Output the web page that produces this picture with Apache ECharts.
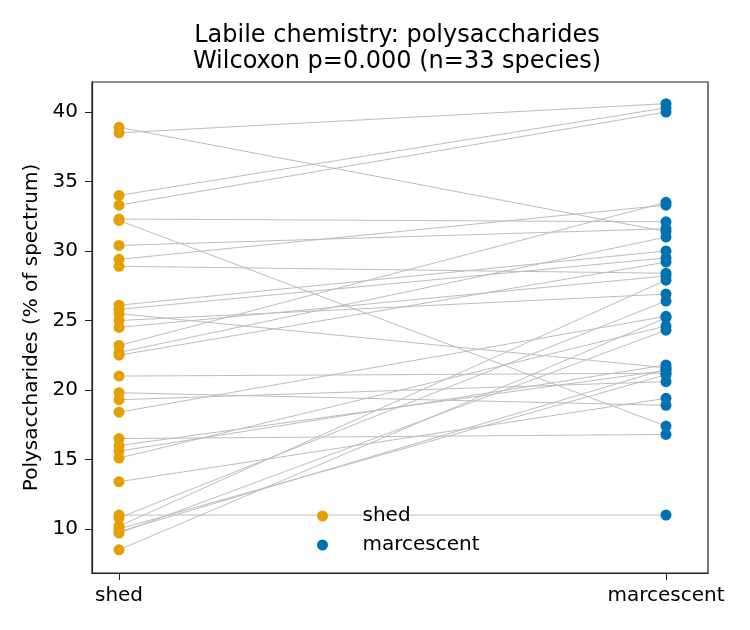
<!DOCTYPE html>
<html>
<head>
<meta charset="utf-8" />
<script type="text/javascript" src="https://cdn.jsdelivr.net/npm/echarts@6/dist/echarts.min.js"></script>
<title>polysaccharides</title>
</head>
<body style="margin:0">
<div id="main" style="width:750px;height:630px"></div>
<script type="text/javascript">
var groups = ['shed', 'marcescent'];
// paired values per species (% of spectrum)
var shedVals = [38.9, 38.5, 34.0, 33.3, 32.3, 32.2, 30.4, 29.4, 28.9, 26.1, 25.8, 25.5, 25.0, 24.5, 23.2, 22.7, 22.5,
                21.0, 19.8, 19.3, 18.4, 16.5, 16.0, 15.6, 15.1, 13.4, 11.0, 10.8, 10.2, 10.0, 9.8, 9.7, 8.5];
var marcVals = [31.4, 40.6, 40.3, 40.0, 32.1, 17.4, 31.6, 33.3, 28.4, 30.0, 29.5, 21.6, 26.9, 28.2, 33.5, 31.0, 29.2,
                21.2, 18.9, 20.6, 25.3, 16.8, 21.4, 21.8, 24.6, 19.4, 11.0, 26.4, 27.9, 21.1, 21.5, 24.3, 25.2];
var yTicks = [10, 15, 20, 25, 30, 35, 40];

var myChart = echarts.init(document.getElementById('main'));
var series = [];
for (var i = 0; i < shedVals.length; i++) {
  series.push({
    type: 'line', silent: true, symbol: 'none', z: 1,
    lineStyle: {color: '#bdbdbd', width: 1},
    data: [[0, shedVals[i]], [1, marcVals[i]]]
  });
}
series.push({
  name: 'shed', type: 'scatter', symbolSize: 11, z: 3,
  itemStyle: {color: '#E69F00', opacity: 1},
  data: shedVals.map(function (v) { return [0, v]; })
});
series.push({
  name: 'marcescent', type: 'scatter', symbolSize: 11, z: 3,
  itemStyle: {color: '#0072B2', opacity: 1},
  data: marcVals.map(function (v) { return [1, v]; })
});

var option = {
  animation: false,
  backgroundColor: '#fff',
  textStyle: {fontFamily: 'DejaVu Sans'},
  title: {
    text: 'Labile chemistry: polysaccharides\nWilcoxon p=0.000 (n=33 species)',
    left: 392, top: 18, textAlign: 'center',
    textStyle: {fontSize: 24, fontWeight: 'normal', color: '#000', lineHeight: 26, fontFamily: 'DejaVu Sans'}
  },
  legend: {
    data: ['shed', 'marcescent'],
    orient: 'vertical', left: 312, top: 501,
    itemWidth: 50, itemHeight: 11, itemGap: 9, icon: 'circle',
    textStyle: {fontSize: 20, lineHeight: 20, color: '#000', padding: [0, 0, 0, 10]}
  },
  grid: {left: 92, right: 42, top: 82, bottom: 57, show: true, borderColor: '#222', borderWidth: 1.2, containLabel: false},
  xAxis: {
    type: 'value', min: -0.0494, max: 1.0768,
    splitLine: {show: false},
    axisLine: {onZero: false, lineStyle: {color: '#222', width: 1.2}},
    axisTick: {customValues: [0, 1], length: 7, lineStyle: {color: '#222'}},
    axisLabel: {customValues: [0, 1], fontSize: 20, color: '#000', margin: 13,
      formatter: function (v) { return groups[Math.round(v)]; }}
  },
  yAxis: {
    type: 'value', min: 6.83, max: 42.16,
    name: 'Polysaccharides (% of spectrum)', nameLocation: 'middle', nameGap: 50,
    nameTextStyle: {fontSize: 20, color: '#000'},
    splitLine: {show: false},
    axisLine: {onZero: false, lineStyle: {color: '#222', width: 1.2}},
    axisTick: {customValues: yTicks, length: 7, lineStyle: {color: '#222'}},
    axisLabel: {customValues: yTicks, fontSize: 20, color: '#000', margin: 14}
  },
  series: series
};
myChart.setOption(option);
</script>
</body>
</html>
